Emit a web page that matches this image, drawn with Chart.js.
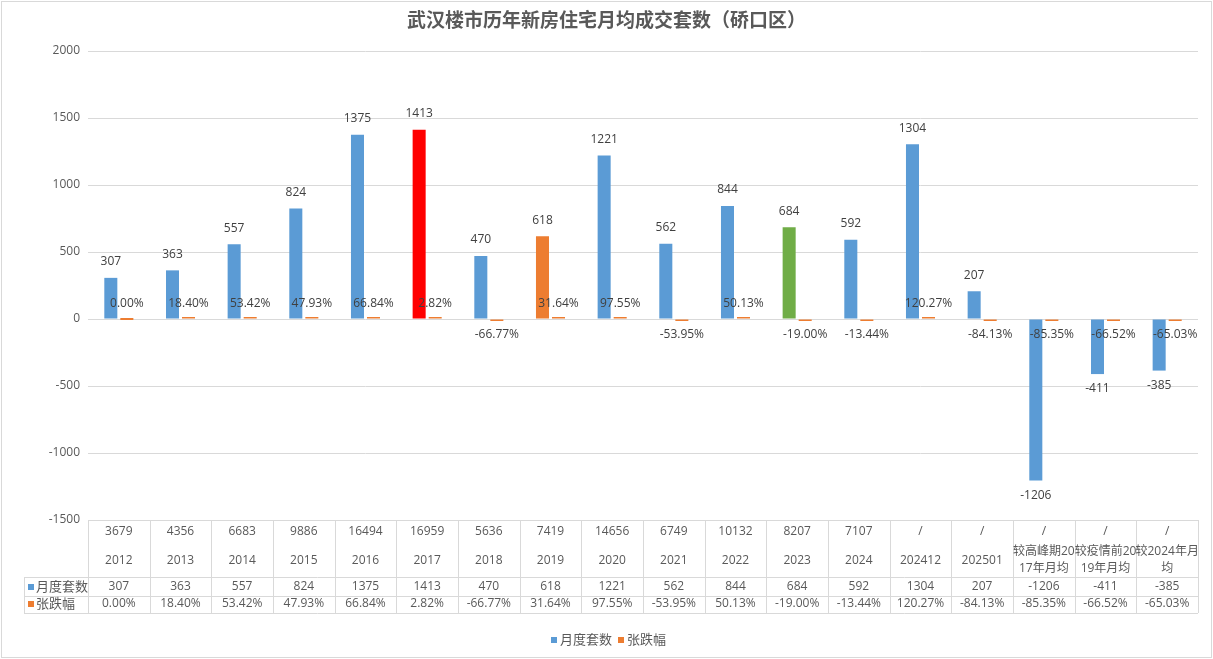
<!DOCTYPE html>
<html>
<head>
<meta charset="utf-8">
<script src="https://cdn.jsdelivr.net/npm/chart.js@4"></script>
<style>
html,body{margin:0;padding:0;background:#fff;}
#wrap{width:1213px;height:659px;position:relative;}
</style>
</head>
<body>
<div id="wrap"><canvas id="c" width="1213" height="659"></canvas></div>
<script>
// ---- data ----
const topLabels = ['3679','4356','6683','9886','16494','16959','5636','7419','14656','6749','10132','8207','7107','/','/','/','/','/'];
const catLabels = [['2012'],['2013'],['2014'],['2015'],['2016'],['2017'],['2018'],['2019'],['2020'],['2021'],['2022'],['2023'],['2024'],['202412'],['202501'],['较高峰期20','17年月均'],['较疫情前20','19年月均'],['较2024年月','均']];
const monthly = [307,363,557,824,1375,1413,470,618,1221,562,844,684,592,1304,207,-1206,-411,-385];
const pctChange = [0.00,18.40,53.42,47.93,66.84,2.82,-66.77,31.64,97.55,-53.95,50.13,-19.00,-13.44,120.27,-84.13,-85.35,-66.52,-65.03];
const yTicks = [-1500,-1000,-500,0,500,1000,1500,2000];
const seriesNames = ['月度套数','张跌幅'];
const title = '武汉楼市历年新房住宅月均成交套数（硚口区）';

const BLUE = '#5B9BD5', ORANGE = '#ED7D31', RED = '#FF0000', GREEN = '#70AD47';
const highlight = {5: RED, 7: ORANGE, 11: GREEN};
const FONT = '"Open Sans", "Noto Sans CJK SC", sans-serif';
const GRID = '#D9D9D9';

const labelsPlugin = {
  id: 'extras',
  afterDatasetsDraw(chart) {
    const ctx = chart.ctx;
    const y = chart.scales.y;
    const zero = y.getPixelForValue(0);
    ctx.save();
    ctx.font = '12px ' + FONT;
    ctx.fillStyle = '#404040';
    ctx.textAlign = 'center';
    ctx.textBaseline = 'middle';
    const m0 = chart.getDatasetMeta(0);
    m0.data.forEach((el, i) => {
      const v = monthly[i];
      const ty = v >= 0 ? el.y - 16 : el.y + 15;
      ctx.fillText(String(v), el.x, ty);
    });
    const m1 = chart.getDatasetMeta(1);
    m1.data.forEach((el, i) => {
      const v = pctChange[i];
      const ty = v >= 0 ? zero - 15 : zero + 16;
      ctx.fillText(v.toFixed(2) + '%', el.x, ty);
    });
    ctx.restore();
  },
  afterDraw(chart) {
    const ctx = chart.ctx;
    const x = chart.scales.x;
    const area = chart.chartArea;
    const n = monthly.length;
    const cw = (area.right - area.left) / n;
    const tTop = area.bottom, r1 = 577, r2 = 596, tBot = 613;
    const hdrLeft = 24;
    ctx.save();
    ctx.strokeStyle = GRID;
    ctx.lineWidth = 1;
    ctx.beginPath();
    ctx.moveTo(area.left, tTop + 0.5); ctx.lineTo(area.right, tTop + 0.5);
    ctx.moveTo(hdrLeft, r1 + 0.5); ctx.lineTo(area.right, r1 + 0.5);
    ctx.moveTo(hdrLeft, r2 + 0.5); ctx.lineTo(area.right, r2 + 0.5);
    ctx.moveTo(hdrLeft, tBot + 0.5); ctx.lineTo(area.right, tBot + 0.5);
    for (let i = 0; i <= n; i++) {
      const px = Math.round(area.left + i * cw) + 0.5;
      ctx.moveTo(px, tTop); ctx.lineTo(px, tBot);
    }
    ctx.moveTo(hdrLeft + 0.5, r1); ctx.lineTo(hdrLeft + 0.5, tBot);
    ctx.stroke();

    ctx.fillStyle = '#595959';
    ctx.font = '12px ' + FONT;
    ctx.textAlign = 'center';
    ctx.textBaseline = 'middle';
    for (let i = 0; i < n; i++) {
      const cx = x.getPixelForValue(i);
      ctx.fillText(topLabels[i], cx, 532);
      const lines = catLabels[i];
      if (lines.length === 1) ctx.fillText(lines[0], cx, 561);
      else { ctx.fillText(lines[0], cx, 552); ctx.fillText(lines[1], cx, 569); }
      ctx.fillText(String(monthly[i]), cx, 587);
      ctx.fillText(pctChange[i].toFixed(2) + '%', cx, 604);
    }
    ctx.textAlign = 'left';
    ctx.fillStyle = BLUE; ctx.fillRect(28, 584, 6, 6);
    ctx.fillStyle = ORANGE; ctx.fillRect(28, 601, 6, 6);
    ctx.fillStyle = '#595959';
    ctx.font = '13px ' + FONT;
    ctx.fillText(seriesNames[0], 36, 587);
    ctx.fillText(seriesNames[1], 36, 604);

    // legend
    ctx.font = '13px ' + FONT;
    const w0 = ctx.measureText(seriesNames[0]).width;
    let lx = 551;
    const ly = 640;
    ctx.fillStyle = BLUE; ctx.fillRect(lx, ly - 3, 6, 6);
    ctx.fillStyle = '#595959'; ctx.fillText(seriesNames[0], lx + 9, ly);
    lx += 9 + w0 + 6;
    ctx.fillStyle = ORANGE; ctx.fillRect(lx, ly - 3, 6, 6);
    ctx.fillStyle = '#595959'; ctx.fillText(seriesNames[1], lx + 9, ly);

    // title
    ctx.textAlign = 'center';
    ctx.font = 'bold 19px "Noto Sans CJK SC", sans-serif';
    ctx.fillStyle = '#595959';
    ctx.fillText(title, chart.width / 2, 20);

    ctx.strokeStyle = GRID;
    ctx.strokeRect(1.5, 1.5, chart.width - 3, chart.height - 3);
    ctx.restore();
  }
};

new Chart(document.getElementById('c'), {
  type: 'bar',
  data: {
    labels: catLabels.map(l => l.join('')),
    datasets: [
      {
        label: seriesNames[0],
        data: monthly,
        backgroundColor: monthly.map((v, i) => highlight[i] || BLUE),
        barPercentage: 0.8125,
        categoryPercentage: 0.52
      },
      {
        label: seriesNames[1],
        data: pctChange.map(v => v / 100),
        backgroundColor: ORANGE,
        barPercentage: 0.8125,
        categoryPercentage: 0.52,
        minBarLength: 2
      }
    ]
  },
  options: {
    responsive: false,
    animation: false,
    events: [],
    layout: { padding: { top: 51, bottom: 139, left: 0, right: 15 } },
    plugins: { legend: { display: false }, title: { display: false }, tooltip: { enabled: false } },
    scales: {
      x: { display: false },
      y: {
        min: -1500, max: 2000,
        afterFit(s) { s.width = 88; },
        afterBuildTicks(s) { s.ticks = yTicks.map(v => ({ value: v })); },
        ticks: { color: '#595959', font: { size: 12, family: FONT }, padding: 8, callback: v => String(v) },
        grid: { color: GRID, drawTicks: false },
        border: { display: false }
      }
    }
  },
  plugins: [labelsPlugin]
});
</script>
</body>
</html>
